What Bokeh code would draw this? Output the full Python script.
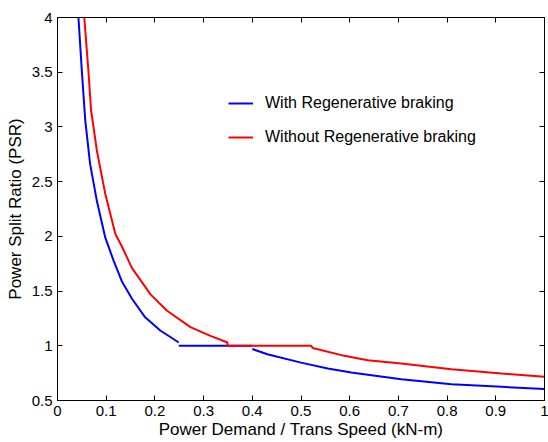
from bokeh.plotting import figure
from bokeh.models import Range1d, LinearAxis, SingleIntervalTicker, CustomJSTickFormatter, Legend, LegendItem
from bokeh.embed import file_html
from bokeh.resources import INLINE

nan = float("nan")

# With regenerative braking (blue)
with_x = [0.043, 0.050, 0.057, 0.067, 0.081, 0.098, 0.115, 0.132, 0.153, 0.180, 0.211, 0.249,
          nan, 0.249, 0.400,
          nan, 0.400, 0.431, 0.500, 0.555, 0.603, 0.706, 0.809, 0.912, 1.000]
with_y = [4.00, 3.51, 3.06, 2.66, 2.32, 1.99, 1.78, 1.59, 1.43, 1.26, 1.14, 1.03,
          nan, 1.00, 1.00,
          nan, 0.97, 0.923, 0.846, 0.792, 0.755, 0.695, 0.649, 0.625, 0.604]

# Without regenerative braking (red)
without_x = [0.055, 0.0635, 0.069, 0.081, 0.098, 0.119, 0.132, 0.153, 0.191, 0.225, 0.273, 0.314, 0.349,
             0.349, 0.521, 0.524, 0.589, 0.637, 0.706, 0.809, 0.912, 1.000]
without_y = [4.00, 3.51, 3.15, 2.78, 2.39, 2.02, 1.91, 1.71, 1.47, 1.32, 1.17, 1.09, 1.03,
             1.00, 1.00, 0.98, 0.908, 0.868, 0.838, 0.786, 0.746, 0.716]

labels = ["With Regenerative braking", "Without Regenerative braking"]
x_label = "Power Demand / Trans Speed (kN-m)"
y_label = "Power Split Ratio (PSR)"

FONT = "Liberation Sans"

p = figure(width=548, height=442, output_backend="svg", toolbar_location=None,
           x_range=Range1d(0, 1), y_range=Range1d(0.5, 4),
           min_border_left=57, min_border_right=4, min_border_top=17, min_border_bottom=42,
           background_fill_color="white", border_fill_color="white")
p.xgrid.visible = False
p.ygrid.visible = False
p.outline_line_color = "black"
p.outline_line_width = 1

fmt = CustomJSTickFormatter(code="return (Math.round(tick*100)/100).toString();")
blank = CustomJSTickFormatter(code="return '';")

p.xaxis.ticker = SingleIntervalTicker(interval=0.1)
p.yaxis.ticker = SingleIntervalTicker(interval=0.5)
for ax in (p.xaxis[0], p.yaxis[0]):
    ax.formatter = fmt
    ax.major_tick_in = 5
    ax.major_tick_out = 0
    ax.minor_tick_in = 0
    ax.minor_tick_out = 0
    ax.axis_line_color = "black"
    ax.major_tick_line_color = "black"
    ax.major_label_text_font = FONT
    ax.major_label_text_font_size = "15px"
    ax.major_label_text_color = "black"
    ax.axis_label_text_font = FONT
    ax.axis_label_text_font_size = "17px"
    ax.axis_label_text_font_style = "normal"
    ax.axis_label_text_color = "black"
p.xaxis.axis_label = x_label
p.yaxis.axis_label = y_label
p.xaxis.major_label_standoff = 5
p.xaxis.axis_label_standoff = 1
p.yaxis.major_label_standoff = 5
p.yaxis.axis_label_standoff = 4

top = LinearAxis(ticker=SingleIntervalTicker(interval=0.1), formatter=blank,
                 major_tick_in=5, major_tick_out=0,
                 minor_tick_in=0, minor_tick_out=0, major_label_text_font_size="1px",
                 major_label_standoff=0, axis_line_color="black")
right = LinearAxis(ticker=SingleIntervalTicker(interval=0.5), formatter=blank,
                   major_tick_in=5, major_tick_out=0,
                   minor_tick_in=0, minor_tick_out=0, major_label_text_font_size="1px",
                   major_label_standoff=0, axis_line_color="black")
p.add_layout(top, "above")
p.add_layout(right, "right")

r1 = p.line(with_x, with_y, line_color="#0000ff", line_width=2)
r2 = p.line(without_x, without_y, line_color="#ff0000", line_width=2)

legend = Legend(items=[LegendItem(label=labels[0], renderers=[r1]),
                       LegendItem(label=labels[1], renderers=[r2])],
                location=(171, 253), orientation="vertical",
                border_line_color=None, background_fill_alpha=0,
                padding=0, margin=0, spacing=14,
                glyph_width=25, glyph_height=20, label_height=20, label_standoff=12,
                label_text_font=FONT, label_text_font_size="16px", label_text_color="black")
p.add_layout(legend, "center")

open("out.html", "w").write(file_html(p, INLINE))
